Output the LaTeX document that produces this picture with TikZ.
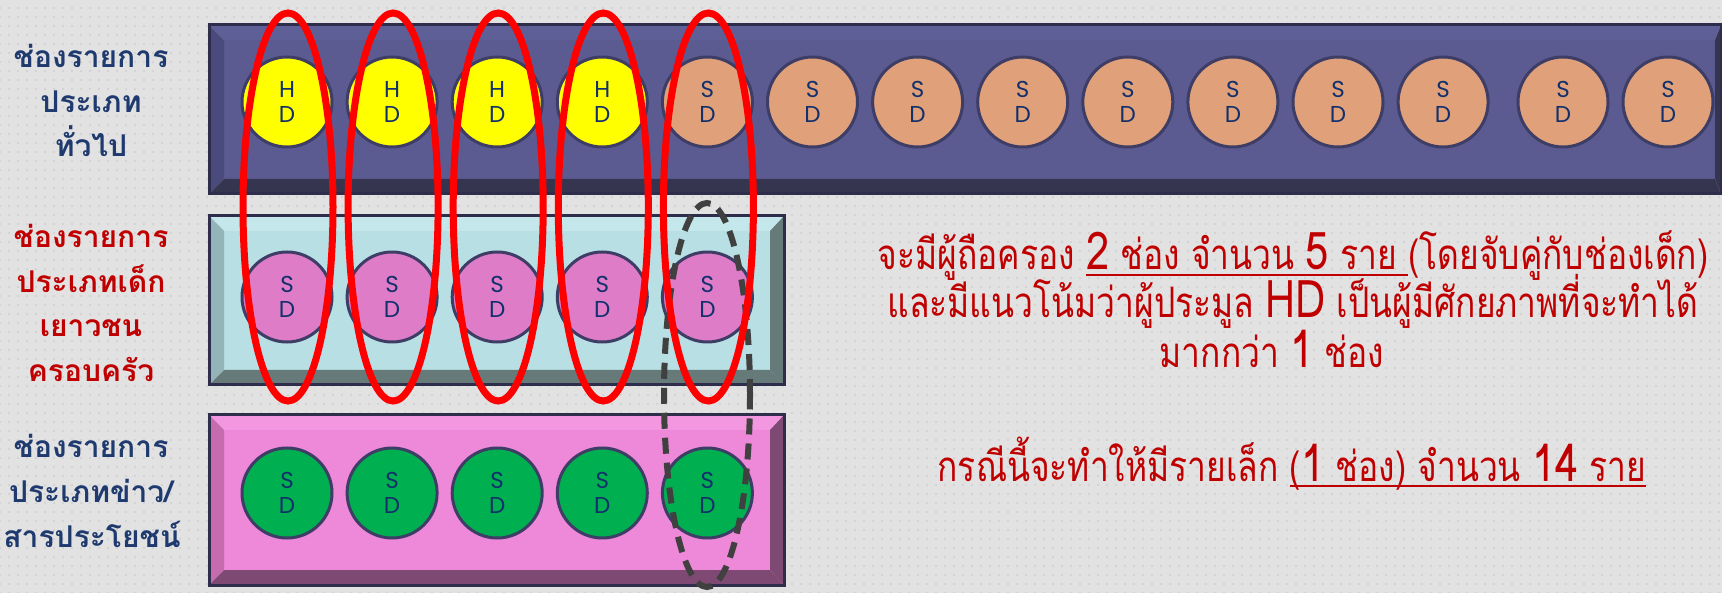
\documentclass[tikz,border=0pt]{standalone}
\usepackage{fontspec}
\usetikzlibrary{patterns.meta}
\newfontfamily\lblfont[Script=Thai]{Loma}
\newfontfamily\rtfont[Script=Thai,FakeStretch=0.80]{Loma}
\newfontfamily\sdfont{Poppins}
\newsavebox\ulbox
\newcommand\ulx[1]{\sbox\ulbox{#1}\rlap{\rule[-6pt]{\wd\ulbox}{2pt}}\usebox\ulbox}
\newcommand\bg[1]{{\fontsize{52}{40}\selectfont #1}}
\definecolor{bg}{HTML}{E2E2E2}
\definecolor{bgdot}{HTML}{D0D0D0}
\definecolor{navy}{HTML}{1F3A6E}
\definecolor{dred}{HTML}{C00000}
\definecolor{ink}{HTML}{12306B}
\definecolor{cedge}{HTML}{3D3D66}
\definecolor{boxedge}{HTML}{2E2E4C}
\definecolor{hdY}{HTML}{FFFF00}
\definecolor{sdO}{HTML}{E0A07A}
\definecolor{sdP}{HTML}{DE7CC8}
\definecolor{sdG}{HTML}{00B050}
% top bar colours
\definecolor{tFace}{HTML}{5B5B92}
\definecolor{tTop}{HTML}{5F5F97}
\definecolor{tLeft}{HTML}{4A4A7C}
\definecolor{tBot}{HTML}{35354F}
% middle
\definecolor{mFace}{HTML}{B8DFE4}
\definecolor{mTop}{HTML}{C3E7EB}
\definecolor{mLeft}{HTML}{93B5B9}
\definecolor{mBot}{HTML}{667A7A}
% bottom
\definecolor{bFace}{HTML}{EE88D8}
\definecolor{bTop}{HTML}{F398E0}
\definecolor{bLeft}{HTML}{C66BAE}
\definecolor{bBot}{HTML}{7E4A74}
% #1..#4 = x0,y0,x1,y1 ; #5 bevel ; #6 right bevel ; #7 prefix of colours
\newcommand\bevbox[7]{%
  \fill[#7Face] (#1+#5,#2+#5) rectangle (#3-#6,#4-#5);
  \fill[#7Top] (#1,#2) -- (#3,#2) -- (#3-#6,#2+#5) -- (#1+#5,#2+#5) -- cycle;
  \fill[#7Left] (#1,#2) -- (#1+#5,#2+#5) -- (#1+#5,#4-#5) -- (#1,#4) -- cycle;
  \fill[#7Bot] (#1,#4) -- (#1+#5,#4-#5) -- (#3-#6,#4-#5) -- (#3,#4) -- cycle;
  \fill[#7Bot] (#3,#2) -- (#3,#4) -- (#3-#6,#4-#5) -- (#3-#6,#2+#5) -- cycle;
  \draw[boxedge,line width=3pt] (#1,#2) rectangle (#3,#4);
}
\tikzset{
  disc/.style={circle,minimum size=90pt,inner sep=0pt,draw=cedge,line width=3pt,
    align=center,text=ink,font=\sdfont\fontsize{23}{25}\selectfont},
  hdc/.style={disc,fill=hdY},
  sdo/.style={disc,fill=sdO},
  sdp/.style={disc,fill=sdP},
  sdg/.style={disc,fill=sdG},
  lbl/.style={anchor=base,inner sep=0pt,font=\lblfont\bfseries\fontsize{30}{36}\selectfont},
  rt/.style={anchor=base,inner sep=0pt,text=dred,font=\rtfont\fontsize{42}{48}\selectfont},
  redov/.style={draw=red,line width=7pt},
  dashov/.style={draw=black!75,line width=6pt,dash pattern=on 16pt off 9pt},
}
\begin{document}
\begin{tikzpicture}[x=1pt,y=-1pt]
\clip (0,0) rectangle (1722,593);
\fill[bg] (0,0) rectangle (1722,593);
\fill[pattern={Dots[distance=9pt,radius=1.1pt]},pattern color=bgdot] (0,0) rectangle (1722,593);

% bars
\bevbox{209}{25}{1721}{194}{15}{6}{t}
\bevbox{209}{216}{784}{385}{15}{14}{m}
\bevbox{209}{415}{784}{585}{15}{14}{b}

% top row
\foreach \k in {0,1,2,3} \node[hdc] (c\k) at (287+105.1*\k,102) {H\\D};
\foreach \k in {4,...,11} \node[sdo] (c\k) at (287+105.1*\k,102) {S\\D};
\node[sdo] (c12) at (1563,102) {S\\D};
\node[sdo] (c13) at (1668,102) {S\\D};
% middle row
\foreach \k in {0,...,4} \node[sdp] (m\k) at (287+105.1*\k,297) {S\\D};
% bottom row
\foreach \k in {0,...,4} \node[sdg] (b\k) at (287+105.1*\k,493) {S\\D};

% dashed ellipse
\draw[dashov] (707,395) ellipse [x radius=43pt,y radius=192pt];
% red ellipses
\foreach \k in {0,...,4} \draw[redov] (288+105.1*\k,207) ellipse [x radius=45pt,y radius=194pt];

% left labels
\begin{scope}[every node/.style={lbl,text=navy}]
\node (l1a) at (91,68) {ช่องรายการ};
\node (l1b) at (91,113) {ประเภท};
\node (l1c) at (91,157) {ทั่วไป};
\end{scope}
\begin{scope}[every node/.style={lbl,text=dred}]
\node (l2a) at (91,248) {ช่องรายการ};
\node (l2b) at (91,293) {ประเภทเด็ก};
\node (l2c) at (91,337) {เยาวชน};
\node (l2d) at (91,382) {ครอบครัว};
\end{scope}
\begin{scope}[every node/.style={lbl,text=navy}]
\node (l3a) at (91,457) {ช่องรายการ};
\node (l3b) at (91,502) {ประเภทข่าว/};
\node (l3c) at (92,547) {สารประโยชน์};
\end{scope}

% right texts
\node[rt] (t1) at (1293,270) {จะมีผู้ถือครอง \ulx{\bg{2} ช่อง จำนวน \bg{5} ราย }(โดยจับคู่กับช่องเด็ก)};
\node[rt] (t2) at (1293,318) {และมีแนวโน้มว่าผู้ประมูล \bg{HD} เป็นผู้มีศักยภาพที่จะทำได้};
\node[rt] (t3) at (1272,368) {มากกว่า \bg{1} ช่อง};
\node[rt] (t4) at (1292,481) {กรณีนี้จะทำให้มีรายเล็ก \ulx{(\bg{1} ช่อง) จำนวน \bg{14} ราย}};
\end{tikzpicture}
\end{document}
